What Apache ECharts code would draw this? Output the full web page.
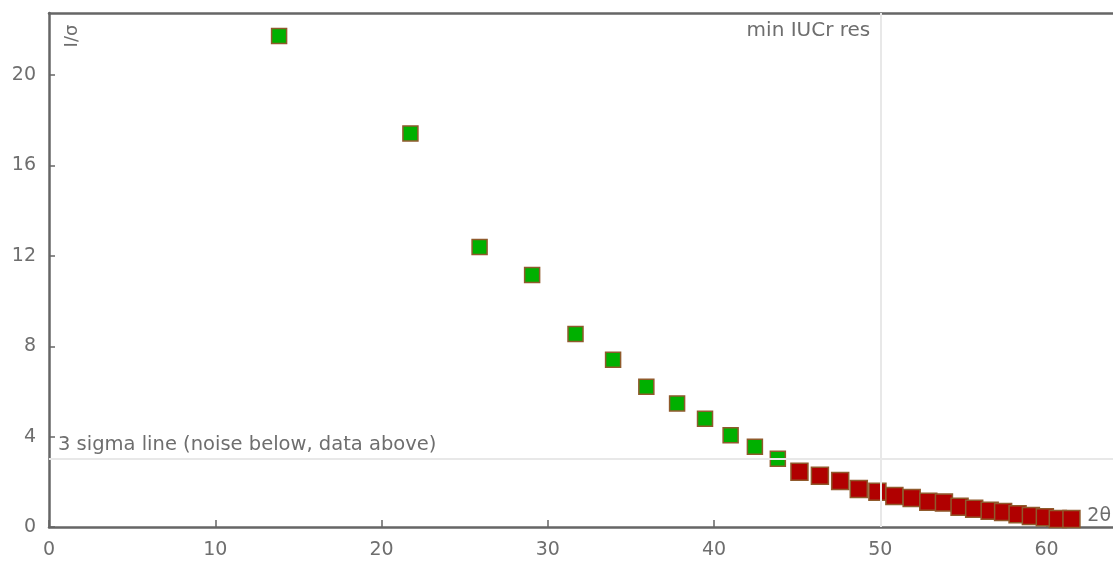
<!DOCTYPE html>
<html>
<head>
<meta charset="utf-8">
<title>I/σ vs 2θ</title>
<script src="https://cdn.jsdelivr.net/npm/echarts@6/dist/echarts.min.js"></script>
<style>
  html, body { margin: 0; padding: 0; background: #fff; }
  #chart { width: 1113px; height: 561px; }
</style>
</head>
<body>
<div id="chart"></div>
<script>
// Resolution shells: diffraction angle 2θ (degrees) and mean I/σ
const twoTheta = [
  13.84, 21.74, 25.90, 29.06, 31.67, 33.93, 35.93, 37.78, 39.46, 41.00,
  42.46, 43.84, 45.14, 46.37, 47.59, 48.71, 49.83, 50.85, 51.89, 52.89,
  53.83, 54.77, 55.65, 56.58, 57.39, 58.26, 59.06, 59.90, 60.68, 61.50
];
const iOverSigma = [
  21.73, 17.42, 12.39, 11.15, 8.54, 7.40, 6.21, 5.47, 4.79, 4.06,
  3.55, 3.02, 2.45, 2.27, 2.04, 1.68, 1.56, 1.37, 1.28, 1.12,
  1.08, 0.90, 0.81, 0.72, 0.66, 0.56, 0.49, 0.43, 0.35, 0.35
];
const yTicks = [0, 4, 8, 12, 16, 20];
const xTicks = [0, 10, 20, 30, 40, 50, 60];

const sigmaCut = 3;        // noise threshold
const iucrMin2Theta = 50;  // minimum IUCr resolution
const xMax = 64, yMax = 22.75;

const aboveNoise = [], belowNoise = [];
twoTheta.forEach((x, i) => {
  (iOverSigma[i] >= sigmaCut ? aboveNoise : belowNoise).push([x, iOverSigma[i]]);
});

const textGray = '#6e6e6e';
const axisGray = '#666666';
const font = 'DejaVu Sans';

const chart = echarts.init(document.getElementById('chart'), null, { renderer: 'canvas' });

const tickStyle = { color: axisGray, width: 1.5 };

chart.setOption({
  animation: false,
  backgroundColor: '#ffffff',
  grid: { left: 49, right: -2, top: 13, bottom: 34, containLabel: false },
  xAxis: [
    {
      type: 'value', min: 0, max: xMax, interval: 10,
      axisLine: { show: true, onZero: false, lineStyle: { color: axisGray, width: 2.5 } },
      axisTick: { show: true, inside: true, length: 7, lineStyle: tickStyle },
      splitLine: { show: false },
      axisLabel: {
        color: textGray, fontFamily: font, fontSize: 19, margin: 14,
        showMaxLabel: false,
        formatter: v => xTicks.includes(v) ? String(v) : ''
      }
    },
    {
      // top frame edge
      type: 'value', position: 'top', min: 0, max: xMax,
      axisLine: { show: true, onZero: false, lineStyle: { color: axisGray, width: 2.5 } },
      axisTick: { show: false }, axisLabel: { show: false }, splitLine: { show: false }
    }
  ],
  yAxis: {
    type: 'value', min: 0, max: yMax, interval: 4,
    axisLine: { show: true, onZero: false, lineStyle: { color: axisGray, width: 2.5 } },
    axisTick: { show: true, inside: true, length: 6, lineStyle: tickStyle },
    splitLine: { show: false },
    axisLabel: {
      color: textGray, fontFamily: font, fontSize: 19, margin: 13,
      showMaxLabel: false, padding: [4, 0, 0, 0],
      formatter: v => yTicks.includes(v) ? String(v) : ''
    }
  },
  series: [
    {
      name: 'reference lines',
      type: 'line',
      data: [],
      silent: true,
      markLine: {
        symbol: 'none',
        silent: true,
        label: { show: false },
        lineStyle: { color: '#e8e8e8', width: 2, type: 'solid' },
        data: [{ xAxis: iucrMin2Theta }, { yAxis: sigmaCut }]
      }
    },
    {
      name: 'data',
      type: 'scatter',
      symbol: 'rect',
      symbolSize: 15,
      data: aboveNoise,
      itemStyle: { color: '#00b000', borderColor: '#8f5a2c', borderWidth: 1.5, opacity: 1 },
      z: 3
    },
    {
      name: 'noise',
      type: 'scatter',
      symbol: 'rect',
      symbolSize: 17,
      data: belowNoise,
      itemStyle: { color: '#b00000', borderColor: '#8f5a2c', borderWidth: 1.5, opacity: 1 },
      z: 3
    }
  ]
});

// Annotations anchored to axis coordinates
function placeAnnotations() {
  const iucrTop = chart.convertToPixel({ gridIndex: 0 }, [iucrMin2Theta, yMax]);
  const sigmaLeft = chart.convertToPixel({ gridIndex: 0 }, [0, sigmaCut]);
  const origin = chart.convertToPixel({ gridIndex: 0 }, [0, 0]);
  const topLeft = chart.convertToPixel({ gridIndex: 0 }, [0, yMax]);
  chart.setOption({
    graphic: [
      {
        type: 'text', x: iucrTop[0] - 10, y: iucrTop[1] + 8,
        style: { text: 'min IUCr res', fill: textGray, font: '20px "DejaVu Sans"', textAlign: 'right', textVerticalAlign: 'top' }
      },
      {
        type: 'text', x: sigmaLeft[0] + 9, y: sigmaLeft[1] - 4,
        style: { text: '3 sigma line (noise below, data above)', fill: textGray, font: '19.5px "DejaVu Sans"', textAlign: 'left', textVerticalAlign: 'bottom' }
      },
      {
        type: 'text', x: topLeft[0] + 23, y: topLeft[1] + 23, rotation: Math.PI / 2,
        style: { text: 'I/σ', fill: textGray, font: '18px "DejaVu Sans"', textAlign: 'center', textVerticalAlign: 'middle' }
      },
      {
        type: 'text', x: 1111, y: origin[1] - 11,
        style: { text: '2θ', fill: textGray, font: '19px "DejaVu Sans"', textAlign: 'right', textVerticalAlign: 'middle' }
      }
    ]
  });
}
placeAnnotations();
</script>
</body>
</html>
